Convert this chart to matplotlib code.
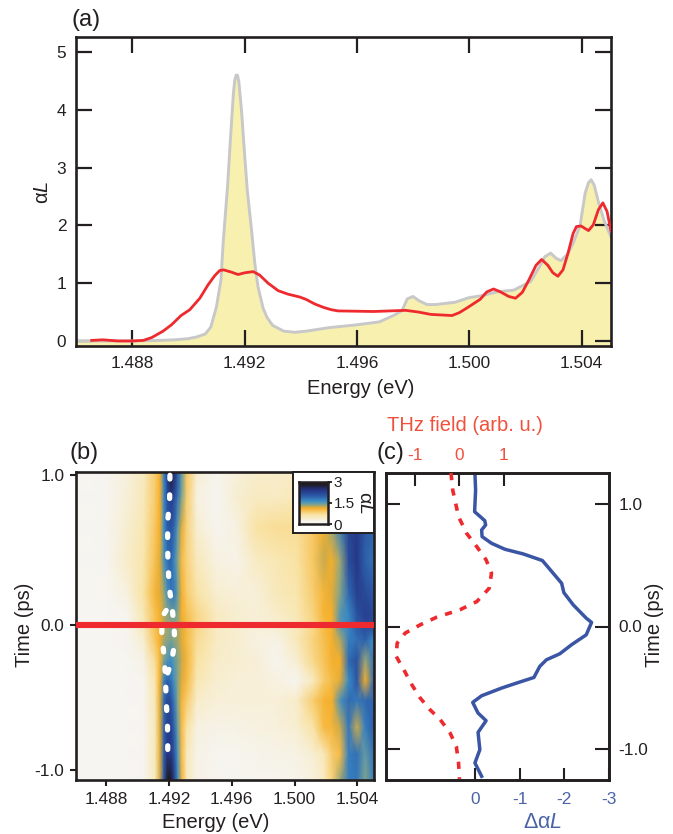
import numpy as np
import matplotlib
matplotlib.use('Agg')
import matplotlib.pyplot as plt
from matplotlib.colors import LinearSegmentedColormap

plt.rcParams['font.family'] = ['Liberation Sans', 'DejaVu Sans']
plt.rcParams['mathtext.fontset'] = 'custom'
plt.rcParams['mathtext.rm'] = 'Liberation Sans'
plt.rcParams['mathtext.it'] = 'Liberation Sans:italic'

W, H = 673, 834
FS = 12.4
LS = 14.5
INK = '#231F20'
RED = '#EE2A2E'
ORANGE_RED = '#F0503C'
BLUE = '#3A55A4'
BLUE_TXT = '#4A63A8'
GREY = '#C8C8C8'
YELLOW = '#F8F0AE'

# ---- panel (a) ----
abs_energy = [1.4860,1.4870,1.4880,1.4890,1.4895,1.4900,1.4903,1.4906,1.4908,1.4910,1.49116,1.49124,1.4914,1.4915,1.4916,1.49165,1.4917,1.49175,
              1.4918,1.4919,1.4920,1.4921,1.49225,1.49237,1.49248,1.49266,1.4928,1.4930,1.4934,1.4938,1.4942,1.4950,1.4960,
              1.4968,1.4973,1.4976,1.4978,1.4980,1.4982,1.4985,1.4988,1.4995,1.5000,1.5004,1.5010,1.50159,1.50219,1.50258,
              1.5027,1.5029,1.5031,1.50327,1.5035,1.5037,1.50395,1.50413,1.50425,1.50434,1.50445,1.5046,1.5048,1.50505]
abs_value = [0.0,0.0,0.0,0.01,0.02,0.04,0.07,0.12,0.24,0.59,1.05,1.70,2.70,3.50,4.25,4.50,4.60,4.60,
             4.48,3.95,3.25,2.60,1.92,1.33,0.94,0.57,0.41,0.27,0.17,0.15,0.17,0.23,0.28,
             0.33,0.44,0.52,0.73,0.77,0.70,0.63,0.63,0.67,0.75,0.78,0.85,0.88,1.03,1.35,
             1.46,1.52,1.43,1.39,1.50,1.69,2.00,2.56,2.74,2.79,2.70,2.41,2.09,1.80]
thz_energy = [1.48656,1.48695,1.4875,1.4880,1.4884,1.4887,1.4891,1.4894,1.48974,1.49005,1.49041,1.4907,1.49094,1.49112,1.49126,
              1.49154,1.49177,1.49201,1.49231,1.49254,1.49284,1.4932,1.49355,1.49397,1.49419,1.4945,1.49482,1.4951,1.49533,1.4966,
              1.49774,1.4982,1.49863,1.49939,1.49965,1.49995,1.5002,1.50039,1.50063,1.50087,1.50111,1.50141,1.50165,1.50189,
              1.50213,1.50238,1.50258,1.5028,1.50298,1.50316,1.50334,1.50352,1.5037,1.50382,1.50398,1.50425,1.50442,1.5046,
              1.50476,1.50491,1.50505]
thz_value = [0.01,0.02,0.0,0.0,0.01,0.06,0.17,0.28,0.44,0.54,0.74,0.97,1.13,1.22,1.23,
             1.19,1.15,1.18,1.20,1.14,1.00,0.87,0.81,0.76,0.72,0.64,0.58,0.54,0.52,0.51,
             0.53,0.50,0.46,0.44,0.49,0.58,0.66,0.72,0.85,0.90,0.85,0.77,0.74,0.84,
             1.06,1.31,1.41,1.31,1.18,1.12,1.23,1.52,1.86,1.98,1.99,1.91,2.01,2.27,
             2.39,2.24,1.90]
a_xticks = [1.488, 1.492, 1.496, 1.500, 1.504]
a_xticklabels = ['1.488', '1.492', '1.496', '1.500', '1.504']
a_yticks = [0, 1, 2, 3, 4, 5]

# ---- panel (b) ----
map_energy = [1.48609,1.48804,1.48932,1.49038,1.49112,1.49144,1.4917,1.49191,1.49212,1.49233,1.49255,1.49282,1.49314,
              1.49378,1.49505,1.49633,1.4976,1.49887,1.50015,1.50121,1.50185,1.50238,1.50291,1.50344,1.50397,1.5045,1.50504]
map_time = [1.022,0.856,0.656,0.433,0.211,0.078,0.0,-0.10,-0.233,-0.367,-0.50,-0.678,-0.856,-1.029]
map_alpha = [
 [.05,.08,.28,.48,.85,1.10,1.70,2.30,2.85,2.50,2.00,1.45,.90,.35,.12,.30,.40,.40,.45,.80,1.05,1.25,1.65,2.10,2.20,2.05,2.00],
 [.05,.08,.30,.50,.85,1.10,1.65,2.10,2.30,2.15,1.80,1.35,.85,.25,.08,.35,.45,.45,.50,.80,1.05,1.25,1.65,2.10,2.20,2.05,2.00],
 [.04,.10,.35,.55,.90,1.10,1.60,1.95,2.05,1.90,1.50,1.15,.80,.35,.10,.25,.65,.70,.70,.90,1.10,1.30,1.70,2.20,2.30,2.00,1.90],
 [.05,.08,.40,.60,.95,1.15,1.55,1.80,1.90,1.65,1.35,1.00,.80,.50,.25,.20,.45,.55,.65,.90,1.20,1.10,1.30,2.10,2.35,1.90,1.80],
 [.05,.06,.25,.65,1.05,1.15,1.30,1.55,1.75,1.75,1.45,1.10,.85,.65,.35,.30,.30,.50,.60,.85,1.05,1.15,1.35,1.85,2.25,2.15,2.00],
 [.05,.05,.12,.55,.95,1.10,1.25,1.32,1.38,1.42,1.35,1.10,.95,.75,.45,.35,.30,.40,.55,.80,1.05,1.10,1.50,1.65,2.05,2.25,2.15],
 [.05,.05,.10,.50,.95,1.08,1.22,1.28,1.32,1.33,1.28,1.15,1.00,.75,.45,.35,.30,.35,.50,.75,1.00,1.10,1.50,1.65,1.95,2.15,2.15],
 [.05,.05,.08,.35,.90,1.10,1.28,1.33,1.38,1.33,1.28,1.15,1.00,.70,.45,.35,.25,.20,.50,.80,.95,1.10,1.25,1.70,1.80,1.90,1.60],
 [.05,.05,.06,.20,.70,1.05,1.38,1.52,1.60,1.48,1.35,1.20,1.05,.65,.40,.35,.30,.15,.35,.75,.92,1.08,1.10,1.85,2.05,1.30,1.80],
 [.05,.05,.05,.12,.60,1.10,1.70,1.90,1.80,1.55,1.35,1.15,1.00,.55,.35,.30,.30,.25,.10,.50,.85,1.00,1.15,1.60,2.00,1.10,1.85],
 [.05,.05,.05,.10,.55,1.15,1.85,2.15,2.10,1.75,1.35,1.05,.85,.40,.30,.30,.30,.30,.40,.85,1.05,1.10,1.55,1.85,1.75,1.85,1.90],
 [.04,.04,.05,.08,.50,1.15,1.90,2.25,2.25,1.90,1.45,1.00,.65,.25,.20,.22,.25,.28,.35,.65,1.00,1.05,1.20,1.75,1.20,1.70,1.95],
 [.04,.04,.05,.08,.50,1.15,1.95,2.35,2.35,2.05,1.55,1.00,.50,.20,.15,.15,.18,.20,.22,.35,.50,.85,1.00,1.70,1.80,1.45,1.80],
 [.04,.04,.05,.08,.50,1.20,2.05,2.80,2.90,2.30,1.65,1.05,.50,.20,.12,.12,.14,.16,.18,.28,.45,.80,1.30,1.70,1.75,1.35,1.70],
]
upper_dash_energy = [1.49207,1.49205,1.49194,1.49192,1.49194,1.49200,1.49208,1.49217,1.49232,1.49238,1.49217,1.49183]
upper_dash_time = [1.00,0.84,0.711,0.567,0.433,0.304,0.211,0.156,0.011,-0.111,-0.244,-0.344]
lower_dash_energy = [1.49183,1.49157,1.49155,1.49168,1.49178,1.49183,1.49191,1.49193,1.49193]
lower_dash_time = [0.10,0.056,-0.056,-0.189,-0.322,-0.50,-0.644,-0.784,-0.922]
b_xticks = [1.488, 1.492, 1.496, 1.500, 1.504]
b_xticklabels = ['1.488', '1.492', '1.496', '1.500', '1.504']
b_ytick_values = [1.0, 0.0, -0.962]
b_yticklabels = ['1.0', '0.0', '-1.0']
scale_stops = [0.0, 0.05, 0.21, 0.37, 0.45, 0.53, 0.65, 0.80, 0.92, 1.0]
scale_colors = ['#F6F5F2', '#F6F4EE', '#F9E5A8', '#F5AE28', '#7FA38E', '#3C8FC8', '#2C5BA8', '#253383', '#1E1A20', '#1E1A20']

# ---- panel (c) ----
delta_time = [1.25,1.11,.935,.862,.827,.786,.732,.678,.629,.591,.537,.434,.352,.276,.176,.068,.033,-.068,-.149,-.222,
              -.271,-.325,-.415,-.461,-.501,-.564,-.618,-.705,-.767,-.862,-1.003,-1.111,-1.22]
delta_value = [0,-.015,.007,-.22,-.24,-.15,-.16,-.37,-.67,-1.08,-1.51,-1.75,-1.94,-1.99,-2.2,-2.49,-2.61,-2.49,-2.16,-1.9,
               -1.6,-1.45,-1.32,-.93,-.6,-.15,.05,-.07,-.25,-.07,-.11,0,-.15]
field_time = [1.25,1.11,.894,.759,.65,.542,.434,.312,.203,.136,.076,.014,-.054,-.136,-.244,-.352,-.474,-.583,-.678,-.759,-.867,-.976,-1.111,-1.241]
field_value = [-.19,-.15,-.02,.16,.39,.6,.72,.67,.39,.01,-.51,-.88,-1.22,-1.4,-1.42,-1.25,-1.07,-.88,-.66,-.43,-.21,-.07,-.02,0]
c_time_ticks = [1.0, 0.0, -1.0]
c_time_labels = ['1.0', '0.0', '-1.0']
c_bottom_ticks = [0, -1, -2, -3]
c_bottom_labels = ['0', '-1', '-2', '-3']
c_top_ticks = [-1, 0, 1]
c_top_labels = ['-1', '0', '1']

fig = plt.figure(figsize=(W/100, H/100), dpi=100)

def px_axes(l, t, r, b, **kw):
    return fig.add_axes([l/W, 1-b/H, (r-l)/W, (b-t)/H], **kw)

def px_text(x, y, s, **kw):
    kw.setdefault('ha', 'center'); kw.setdefault('va', 'center')
    kw.setdefault('fontsize', LS); kw.setdefault('color', INK)
    fig.text(x/W, 1-y/H, s, **kw)

def style_spines(ax, lw=1.9):
    for s in ax.spines.values():
        s.set_linewidth(lw); s.set_color(INK)

# (a)
ax = px_axes(76, 37, 611, 346)
ax.fill_between(abs_energy, abs_value, -0.2, color=YELLOW, lw=0, zorder=1)
ax.plot(abs_energy, abs_value, color=GREY, lw=2.1, zorder=2, solid_joinstyle='round')
ax.plot(thz_energy, thz_value, color=RED, lw=2.0, zorder=3, solid_joinstyle='round')
ax.set_xlim(1.4860, 1.50505); ax.set_ylim(-0.087, 5.26)
ax.set_xticks(a_xticks, a_xticklabels); ax.set_yticks(a_yticks)
ax.tick_params(direction='in', top=True, right=True, length=11.5, width=1.6, color=INK,
               labelsize=FS, labelcolor=INK, pad=7)
style_spines(ax)
px_text(86, 20, '(a)', fontsize=17)
px_text(361, 388, 'Energy (eV)')
px_text(43, 192, 'α$\\mathit{L}$', rotation=90)

# (b)
cmap = LinearSegmentedColormap.from_list('alpha_scale', list(zip(scale_stops, scale_colors)), N=512)
bx = px_axes(76, 472, 374, 780)
bx.pcolormesh(map_energy, map_time, np.array(map_alpha), cmap=cmap, vmin=0, vmax=3,
              shading='gouraud', rasterized=True, zorder=1)
bx.plot(upper_dash_energy, upper_dash_time, color='white', lw=3.8, dashes=(0.7, 3.0),
        dash_capstyle='round', zorder=3)
bx.plot(lower_dash_energy, lower_dash_time, color='white', lw=3.8, dashes=(0.7, 3.0),
        dash_capstyle='round', zorder=3)
bx.axhline(0.0, color=RED, lw=4.4, zorder=4, solid_capstyle='butt')
bx.set_xlim(1.48609, 1.50506); bx.set_ylim(-1.029, 1.022)
bx.set_xticks(b_xticks, b_xticklabels)
bx.set_yticks(b_ytick_values, b_yticklabels)
bx.tick_params(direction='out', length=4.5, width=1.5, color=INK, labelsize=FS, labelcolor=INK, pad=4)
style_spines(bx)
px_text(84, 453, '(b)', fontsize=17)
px_text(216, 822, 'Energy (eV)')
px_text(25, 625, 'Time (ps)', rotation=90)

# scale inset
box = px_axes(293, 472, 374, 533)
box.set_xticks([]); box.set_yticks([])
box.set_facecolor('white')
style_spines(box, 1.4)
box.set_zorder(5)
cb = px_axes(299, 482, 328, 524)
cb.set_zorder(6)
cb.imshow(np.linspace(3, 0, 256)[:, None], cmap=cmap, vmin=0, vmax=3, aspect='auto', extent=[0, 1, 0, 3])
cb.set_xticks([]); cb.yaxis.tick_right()
cb.set_yticks([0, 1.5, 3], ['0', '1.5', '3'])
cb.tick_params(direction='out', length=3, width=1.3, color=INK, labelsize=11, labelcolor=INK, pad=1)
style_spines(cb, 1.8)
px_text(365, 502, 'α$\\mathit{L}$', rotation=-90, fontsize=14, zorder=10)

# (c)
cx = px_axes(386, 473, 609, 780)
cx.plot(delta_value, delta_time, color=BLUE, lw=2.5, zorder=3, solid_joinstyle='round')
cx.set_xlim(1.99, -3); cx.set_ylim(-1.25, 1.25)
cx.set_xticks(c_bottom_ticks, c_bottom_labels)
cx.set_yticks(c_time_ticks, c_time_labels)
cx.yaxis.tick_right()
cx.tick_params(axis='x', direction='in', length=9, width=1.5, color=INK, labelsize=FS, labelcolor=BLUE_TXT, pad=9)
cx.tick_params(axis='y', direction='in', left=True, right=True, length=10, width=1.5, color=INK,
               labelsize=FS, labelcolor=INK, pad=7)
style_spines(cx)
tx = cx.twiny()
tx.plot(field_value, field_time, color=RED, lw=2.6, dashes=(2.0, 2.3), zorder=3)
tx.set_xlim(-1.65, 3.36)
tx.set_xticks(c_top_ticks, c_top_labels)
tx.tick_params(axis='x', direction='in', length=9, width=1.5, color=INK, labelsize=FS, labelcolor=ORANGE_RED, pad=7)
style_spines(tx)
px_text(390, 453, '(c)', fontsize=17)
px_text(465, 425, 'THz field (arb. u.)', color=ORANGE_RED)
px_text(543, 822, 'Δα$\\mathit{L}$', color=BLUE_TXT, fontsize=15.5)
px_text(655, 625, 'Time (ps)', rotation=90)

fig.savefig('out.png', dpi=100)
